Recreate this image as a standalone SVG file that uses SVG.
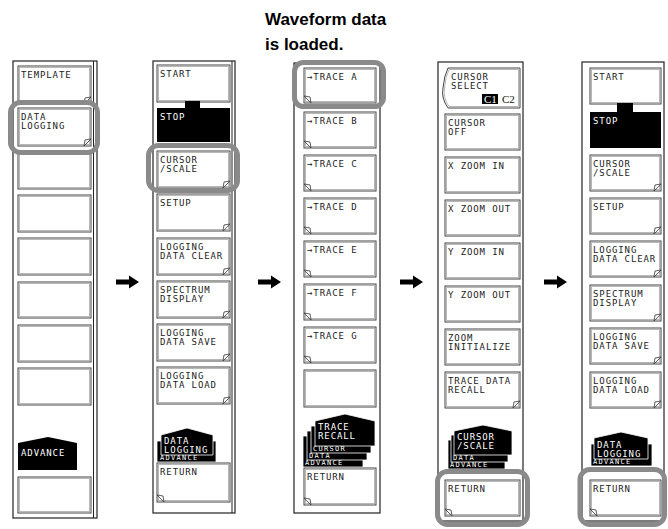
<svg xmlns="http://www.w3.org/2000/svg" xmlns:xlink="http://www.w3.org/1999/xlink" width="668" height="529" viewBox="0 0 668 529">
<style>
.pn{fill:#fff;stroke:#222;stroke-width:1.2}
.il{stroke:#222;stroke-width:1}
.bx{fill:#fff;stroke:#444;stroke-width:1}
.bi{fill:none;stroke:#b8b8b8;stroke-width:1}
.bk{fill:#000}
.ly{fill:#000;stroke:#fff;stroke-width:0.8}
.t{font-family:"DejaVu Sans Mono",monospace;font-size:9px;letter-spacing:0.9px;fill:#222}
.s{font-family:"DejaVu Sans Mono",monospace;font-size:7px;letter-spacing:1.3px;fill:#fff}
.w{fill:#fff}
.hl{fill:none;stroke:#8a8a8a;stroke-width:5}
.mk{fill:#fff;stroke:#333;stroke-width:0.8}
.ti{font-family:"Liberation Sans",Arial,sans-serif;font-size:17px;font-weight:bold;fill:#000}
.cs{font-family:"Liberation Serif",serif;font-size:11px}
</style>
<defs>
<path id="mbr" class="mk" d="M-7,0 L-6,-6 L0,-7 Z"/>
<path id="mbl" class="mk" d="M7,0 L6,-6 L0,-7 Z"/>
<path id="arr" d="M-23,-2.5 H-10 V-6.5 L0,0 L-10,6.5 V2.5 H-23 Z" fill="#000"/>
</defs>

<g id="title">
<text class="ti" x="265" y="25">Waveform data</text>
<text class="ti" x="265" y="50">is loaded.</text>
</g>

<g id="connectors">
<use xlink:href="#arr" x="139" y="282"/>
<use xlink:href="#arr" x="281" y="282"/>
<use xlink:href="#arr" x="423" y="282"/>
<use xlink:href="#arr" x="567" y="282"/>
</g>

<g id="menu1">
<rect class="pn" x="13" y="61" width="84" height="457"/>
<line class="il" x1="93.5" y1="61" x2="93.5" y2="518"/>
<rect class="bx" x="18" y="66" width="73" height="38"/><rect class="bi" x="19.5" y="67.5" width="70" height="35"/>
<text class="t" x="21" y="78">TEMPLATE</text>
<use xlink:href="#mbr" x="91" y="104"/>
<rect class="bx" x="18" y="108" width="73" height="38"/><rect class="bi" x="19.5" y="109.5" width="70" height="35"/>
<text class="t" x="21" y="120">DATA</text><text class="t" x="21" y="129">LOGGING</text>
<use xlink:href="#mbr" x="91" y="146"/>
<rect class="bx" x="18" y="152" width="73" height="37"/><rect class="bi" x="19.5" y="153.5" width="70" height="34"/>
<rect class="bx" x="18" y="195" width="73" height="37"/><rect class="bi" x="19.5" y="196.5" width="70" height="34"/>
<rect class="bx" x="18" y="238" width="73" height="37"/><rect class="bi" x="19.5" y="239.5" width="70" height="34"/>
<rect class="bx" x="18" y="282" width="73" height="36"/><rect class="bi" x="19.5" y="283.5" width="70" height="33"/>
<rect class="bx" x="18" y="325" width="73" height="37"/><rect class="bi" x="19.5" y="326.5" width="70" height="34"/>
<rect class="bx" x="18" y="368" width="73" height="37"/><rect class="bi" x="19.5" y="369.5" width="70" height="34"/>
<path class="bk" d="M18,470 L18,443 L48,437 L77,443 L77,470 Z"/>
<text class="t w" x="21" y="456">ADVANCE</text>
<rect class="bx" x="18" y="477" width="73" height="36"/><rect class="bi" x="19.5" y="478.5" width="70" height="33"/>
<rect class="hl" x="10.5" y="102.5" width="87" height="50" rx="10"/>
</g>

<g id="menu2">
<rect class="pn" x="153" y="61" width="82" height="452"/>
<line class="il" x1="232" y1="61" x2="232" y2="513"/>
<rect class="bx" x="157" y="65" width="73" height="37"/><rect class="bi" x="158.5" y="66.5" width="70" height="34"/>
<text class="t" x="160" y="77">START</text>
<rect class="bk" x="185" y="101" width="15" height="8"/>
<rect class="bk" x="157" y="108" width="73" height="34"/>
<text class="t w" x="160" y="120">STOP</text>
<rect class="bx" x="157" y="151" width="73" height="37"/><rect class="bi" x="158.5" y="152.5" width="70" height="34"/>
<text class="t" x="160" y="163">CURSOR</text><text class="t" x="160" y="172">/SCALE</text>
<use xlink:href="#mbr" x="230" y="188"/>
<rect class="bx" x="157" y="194" width="73" height="37"/><rect class="bi" x="158.5" y="195.5" width="70" height="34"/>
<text class="t" x="160" y="206">SETUP</text>
<use xlink:href="#mbr" x="230" y="231"/>
<rect class="bx" x="157" y="238" width="73" height="37"/><rect class="bi" x="158.5" y="239.5" width="70" height="34"/>
<text class="t" x="160" y="250">LOGGING</text><text class="t" x="160" y="259">DATA CLEAR</text>
<use xlink:href="#mbr" x="230" y="275"/>
<rect class="bx" x="157" y="281" width="73" height="37"/><rect class="bi" x="158.5" y="282.5" width="70" height="34"/>
<text class="t" x="160" y="293">SPECTRUM</text><text class="t" x="160" y="302">DISPLAY</text>
<use xlink:href="#mbr" x="230" y="318"/>
<rect class="bx" x="157" y="324" width="73" height="37"/><rect class="bi" x="158.5" y="325.5" width="70" height="34"/>
<text class="t" x="160" y="336">LOGGING</text><text class="t" x="160" y="345">DATA SAVE</text>
<use xlink:href="#mbr" x="230" y="361"/>
<rect class="bx" x="157" y="367" width="73" height="37"/><rect class="bi" x="158.5" y="368.5" width="70" height="34"/>
<text class="t" x="160" y="379">LOGGING</text><text class="t" x="160" y="388">DATA LOAD</text>
<use xlink:href="#mbr" x="230" y="404"/>
<rect class="ly" x="157" y="441" width="59" height="21"/>
<text class="s" x="160" y="460.3">ADVANCE</text>
<path class="ly" d="M161,455 L161,435 L187,428 L213,435 L213,455 Z"/>
<text class="t w" x="164" y="444">DATA</text><text class="t w" x="164" y="453">LOGGING</text>
<rect class="bx" x="157" y="463" width="73" height="39"/><rect class="bi" x="158.5" y="464.5" width="70" height="36"/>
<text class="t" x="160" y="475">RETURN</text>
<use xlink:href="#mbl" x="157" y="502"/>
<rect class="hl" x="148.5" y="145.5" width="89" height="45" rx="10"/>
</g>

<g id="menu3">
<rect class="pn" x="294" y="63" width="86" height="450"/>
<rect class="bx" x="304" y="68" width="72" height="35"/><rect class="bi" x="305.5" y="69.5" width="69" height="32"/>
<text class="t" x="307" y="80">→TRACE A</text><use xlink:href="#mbl" x="304" y="103"/>
<rect class="bx" x="304" y="112" width="72" height="36"/><rect class="bi" x="305.5" y="113.5" width="69" height="33"/>
<text class="t" x="307" y="124">→TRACE B</text><use xlink:href="#mbl" x="304" y="148"/>
<rect class="bx" x="304" y="155" width="72" height="36"/><rect class="bi" x="305.5" y="156.5" width="69" height="33"/>
<text class="t" x="307" y="167">→TRACE C</text><use xlink:href="#mbl" x="304" y="191"/>
<rect class="bx" x="304" y="198" width="72" height="36"/><rect class="bi" x="305.5" y="199.5" width="69" height="33"/>
<text class="t" x="307" y="210">→TRACE D</text><use xlink:href="#mbl" x="304" y="234"/>
<rect class="bx" x="304" y="241" width="72" height="36"/><rect class="bi" x="305.5" y="242.5" width="69" height="33"/>
<text class="t" x="307" y="253">→TRACE E</text><use xlink:href="#mbl" x="304" y="277"/>
<rect class="bx" x="304" y="284" width="72" height="36"/><rect class="bi" x="305.5" y="285.5" width="69" height="33"/>
<text class="t" x="307" y="296">→TRACE F</text><use xlink:href="#mbl" x="304" y="320"/>
<rect class="bx" x="304" y="327" width="72" height="36"/><rect class="bi" x="305.5" y="328.5" width="69" height="33"/>
<text class="t" x="307" y="339">→TRACE G</text><use xlink:href="#mbl" x="304" y="363"/>
<rect class="bx" x="304" y="370" width="72" height="37"/><rect class="bi" x="305.5" y="371.5" width="69" height="34"/>
<rect class="ly" x="303" y="436" width="60" height="31"/>
<text class="s" x="305" y="465.3">ADVANCE</text>
<rect class="ly" x="307" y="431" width="60" height="29"/>
<text class="s" x="309" y="458.3">DATA</text>
<rect class="ly" x="311" y="426" width="60" height="27"/>
<text class="s" x="313" y="451.3">CURSOR</text>
<path class="ly" d="M315,446 L315,421 L345,414 L375,421 L375,446 Z"/>
<text class="t w" x="318" y="430">TRACE</text><text class="t w" x="318" y="439">RECALL</text>
<rect class="bx" x="304" y="468" width="72" height="37"/><rect class="bi" x="305.5" y="469.5" width="69" height="34"/>
<text class="t" x="307" y="480">RETURN</text><use xlink:href="#mbl" x="304" y="505"/>
<rect class="hl" x="294.5" y="62.5" width="89" height="44" rx="9"/>
</g>

<g id="menu4">
<rect class="pn" x="438" y="62" width="85" height="459"/>
<path class="bx" d="M448,68 H520 V108 H448 Q441,98 443,88 Q444,76 448,68 Z"/>
<path class="bi" d="M449,69.5 H518.5 V106.5 H449 Q443,98 444.5,88 Q445.5,77 449,69.5 Z"/>
<text class="t" x="451" y="80">CURSOR</text><text class="t" x="451" y="89">SELECT</text>
<rect class="bk" x="482" y="94" width="16" height="10"/>
<text class="cs" x="484" y="103" fill="#fff">C1</text>
<text class="cs" x="502" y="103" fill="#111">C2</text>
<rect class="bx" x="445" y="114" width="75" height="36"/><rect class="bi" x="446.5" y="115.5" width="72" height="33"/>
<text class="t" x="448" y="126">CURSOR</text><text class="t" x="448" y="135">OFF</text>
<rect class="bx" x="445" y="157" width="75" height="36"/><rect class="bi" x="446.5" y="158.5" width="72" height="33"/>
<text class="t" x="448" y="169">X ZOOM IN</text>
<rect class="bx" x="445" y="200" width="75" height="36"/><rect class="bi" x="446.5" y="201.5" width="72" height="33"/>
<text class="t" x="448" y="212">X ZOOM OUT</text>
<rect class="bx" x="445" y="243" width="75" height="36"/><rect class="bi" x="446.5" y="244.5" width="72" height="33"/>
<text class="t" x="448" y="255">Y ZOOM IN</text>
<rect class="bx" x="445" y="286" width="75" height="36"/><rect class="bi" x="446.5" y="287.5" width="72" height="33"/>
<text class="t" x="448" y="298">Y ZOOM OUT</text>
<rect class="bx" x="445" y="329" width="75" height="36"/><rect class="bi" x="446.5" y="330.5" width="72" height="33"/>
<text class="t" x="448" y="341">ZOOM</text><text class="t" x="448" y="350">INITIALIZE</text>
<rect class="bx" x="445" y="372" width="75" height="36"/><rect class="bi" x="446.5" y="373.5" width="72" height="33"/>
<text class="t" x="448" y="384">TRACE DATA</text><text class="t" x="448" y="393">RECALL</text>
<use xlink:href="#mbr" x="520" y="408"/>
<rect class="ly" x="448" y="440" width="57" height="29"/>
<text class="s" x="450" y="467.3">ADVANCE</text>
<rect class="ly" x="451" y="435" width="57" height="27"/>
<text class="s" x="453" y="460.3">DATA</text>
<path class="ly" d="M454,455 L454,431 L483,425 L512,431 L512,455 Z"/>
<text class="t w" x="457" y="440">CURSOR</text><text class="t w" x="457" y="449">/SCALE</text>
<rect class="bx" x="445" y="480" width="75" height="36"/><rect class="bi" x="446.5" y="481.5" width="72" height="33"/>
<text class="t" x="448" y="492">RETURN</text><use xlink:href="#mbl" x="445" y="516"/>
<rect class="hl" x="437.5" y="471.5" width="90" height="53" rx="10"/>
</g>

<g id="menu5">
<rect class="pn" x="582" y="62" width="82" height="459"/>
<rect class="bx" x="590" y="68" width="71" height="36"/><rect class="bi" x="591.5" y="69.5" width="68" height="33"/>
<text class="t" x="593" y="80">START</text>
<rect class="bk" x="617" y="103" width="16" height="9"/>
<rect class="bk" x="590" y="112" width="71" height="36"/>
<text class="t w" x="593" y="124">STOP</text>
<rect class="bx" x="590" y="155" width="71" height="36"/><rect class="bi" x="591.5" y="156.5" width="68" height="33"/>
<text class="t" x="593" y="167">CURSOR</text><text class="t" x="593" y="176">/SCALE</text>
<use xlink:href="#mbr" x="661" y="191"/>
<rect class="bx" x="590" y="198" width="71" height="36"/><rect class="bi" x="591.5" y="199.5" width="68" height="33"/>
<text class="t" x="593" y="210">SETUP</text>
<use xlink:href="#mbr" x="661" y="234"/>
<rect class="bx" x="590" y="241" width="71" height="36"/><rect class="bi" x="591.5" y="242.5" width="68" height="33"/>
<text class="t" x="593" y="253">LOGGING</text><text class="t" x="593" y="262">DATA CLEAR</text>
<use xlink:href="#mbr" x="661" y="277"/>
<rect class="bx" x="590" y="285" width="71" height="36"/><rect class="bi" x="591.5" y="286.5" width="68" height="33"/>
<text class="t" x="593" y="297">SPECTRUM</text><text class="t" x="593" y="306">DISPLAY</text>
<use xlink:href="#mbr" x="661" y="321"/>
<rect class="bx" x="590" y="328" width="71" height="36"/><rect class="bi" x="591.5" y="329.5" width="68" height="33"/>
<text class="t" x="593" y="340">LOGGING</text><text class="t" x="593" y="349">DATA SAVE</text>
<use xlink:href="#mbr" x="661" y="364"/>
<rect class="bx" x="590" y="372" width="71" height="36"/><rect class="bi" x="591.5" y="373.5" width="68" height="33"/>
<text class="t" x="593" y="384">LOGGING</text><text class="t" x="593" y="393">DATA LOAD</text>
<use xlink:href="#mbr" x="661" y="408"/>
<rect class="ly" x="591" y="444" width="61" height="22"/>
<text class="s" x="593" y="464.3">ADVANCE</text>
<path class="ly" d="M594,459 L594,438 L621,432 L648,438 L648,459 Z"/>
<text class="t w" x="597" y="448">DATA</text><text class="t w" x="597" y="457">LOGGING</text>
<rect class="bx" x="590" y="480" width="71" height="36"/><rect class="bi" x="591.5" y="481.5" width="68" height="33"/>
<text class="t" x="593" y="492">RETURN</text><use xlink:href="#mbl" x="590" y="516"/>
<rect class="hl" x="580" y="469.5" width="84.5" height="55" rx="10"/>
</g>
</svg>
